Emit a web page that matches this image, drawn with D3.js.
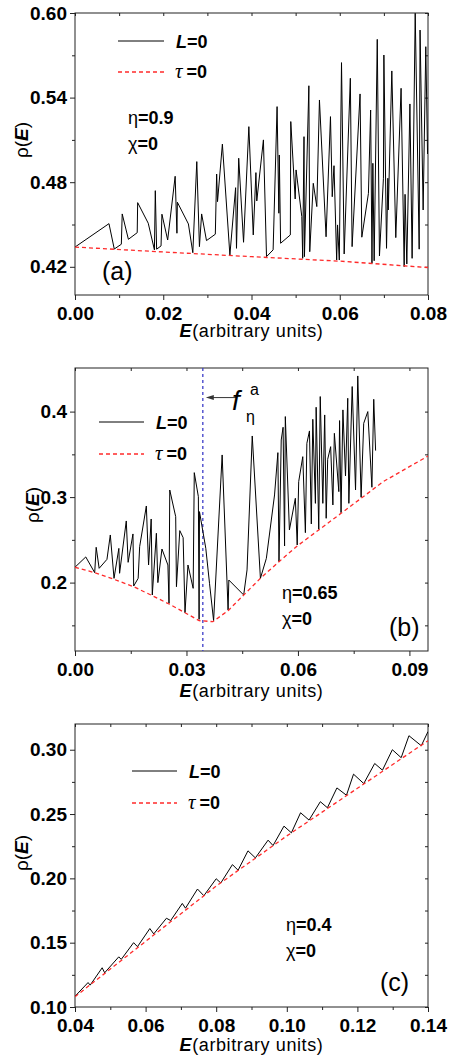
<!DOCTYPE html>
<html>
<head>
<meta charset="utf-8">
<script src="https://cdn.jsdelivr.net/npm/d3@7"></script>
<style>
  body { margin: 0; background: #fff; }
  svg { display: block; }
  text { font-family: Arial, "Liberation Sans", sans-serif; }
</style>
</head>
<body>
<svg id="chart" width="449" height="1059"></svg>
<script>
// datos: [E, rho]
const aL = [
  [0, 0.434], [0.0077, 0.4506], [0.0089, 0.4326], [0.0105, 0.436], [0.0107, 0.4575],
  [0.0121, 0.4395], [0.0141, 0.4442], [0.0142, 0.4655], [0.0166, 0.4509], [0.0180, 0.432],
  [0.0182, 0.474], [0.0185, 0.4325], [0.0195, 0.4348], [0.0197, 0.4573], [0.0210, 0.439],
  [0.0227, 0.4842], [0.0231, 0.4438], [0.0232, 0.4658], [0.0257, 0.4504], [0.0267, 0.430],
  [0.0276, 0.4946], [0.0282, 0.4343], [0.0287, 0.4575], [0.0298, 0.4386], [0.0318, 0.4431],
  [0.0321, 0.4858], [0.0323, 0.4662], [0.0334, 0.507], [0.0351, 0.4284], [0.0364, 0.4761],
  [0.0366, 0.4331], [0.0371, 0.497], [0.0382, 0.4374], [0.0394, 0.5194], [0.0404, 0.4426],
  [0.0410, 0.4868], [0.0412, 0.4667], [0.0427, 0.51], [0.0434, 0.4272], [0.0449, 0.432],
  [0.0458, 0.5336], [0.0462, 0.458], [0.0463, 0.4993], [0.0466, 0.4367], [0.0488, 0.4426],
  [0.0489, 0.523], [0.0499, 0.4681], [0.0501, 0.4887], [0.0514, 0.4556], [0.0516, 0.426],
  [0.0519, 0.5123], [0.0520, 0.4272], [0.0530, 0.5484], [0.0532, 0.4307], [0.0540, 0.4792],
  [0.0548, 0.4627], [0.0554, 0.5383], [0.0569, 0.4413], [0.0579, 0.5265], [0.0583, 0.4697],
  [0.0587, 0.4917], [0.0593, 0.4248], [0.0595, 0.4497], [0.0599, 0.4248], [0.0604, 0.5648],
  [0.0610, 0.4291], [0.0624, 0.5537], [0.0628, 0.4343], [0.0646, 0.5426], [0.0650, 0.441],
  [0.0665, 0.4721], [0.0670, 0.5312], [0.0673, 0.4225], [0.0675, 0.4934], [0.0678, 0.4243],
  [0.0685, 0.5813], [0.0690, 0.4277], [0.0699, 0.4828], [0.0700, 0.5702], [0.0706, 0.4331],
  [0.0709, 0.4828], [0.0710, 0.4603], [0.0718, 0.5589], [0.0727, 0.4407], [0.0739, 0.5466],
  [0.0746, 0.4201], [0.0748, 0.4714], [0.0752, 0.422], [0.0759, 0.5355], [0.0764, 0.426],
  [0.0771, 0.5998], [0.0780, 0.4325], [0.0782, 0.5879], [0.0789, 0.4603], [0.0795, 0.5761],
  [0.0799, 0.50]
];
const aTau = [[0, 0.434], [0.02, 0.4305], [0.04, 0.4272], [0.06, 0.424], [0.08, 0.4195]];

const bL = [
  [0, 0.218], [0.0029, 0.23], [0.0053, 0.2116], [0.0057, 0.2413], [0.0065, 0.2167],
  [0.0086, 0.2272], [0.0095, 0.2557], [0.0105, 0.205], [0.0118, 0.240], [0.0120, 0.2109],
  [0.0138, 0.2721], [0.0143, 0.2237], [0.0156, 0.2569], [0.0158, 0.196], [0.0170, 0.205],
  [0.0174, 0.242], [0.0192, 0.2896], [0.0198, 0.2206], [0.0205, 0.2744], [0.0208, 0.1855],
  [0.0219, 0.2577], [0.0223, 0.200], [0.0234, 0.2393], [0.0250, 0.2206], [0.0253, 0.1757],
  [0.0255, 0.3083], [0.0271, 0.2771], [0.0273, 0.1952], [0.0282, 0.2608], [0.0291, 0.2526],
  [0.0296, 0.1648], [0.0304, 0.2206], [0.0318, 0.1933], [0.0321, 0.3286], [0.0332, 0.3005],
  [0.0334, 0.157], [0.0335, 0.283], [0.0352, 0.2401], [0.0362, 0.1992], [0.0373, 0.1555],
  [0.0396, 0.3493], [0.0412, 0.168], [0.0414, 0.203], [0.0454, 0.1855], [0.0463, 0.2148],
  [0.0477, 0.3715], [0.0499, 0.205], [0.0515, 0.2284], [0.0537, 0.3025], [0.0546, 0.352],
  [0.0549, 0.2245], [0.0555, 0.3668], [0.0560, 0.3817], [0.0564, 0.2428], [0.0566, 0.3942],
  [0.0577, 0.2616], [0.0593, 0.2986], [0.0598, 0.244], [0.0602, 0.3181], [0.0613, 0.3473],
  [0.0620, 0.2584], [0.0624, 0.3629], [0.0631, 0.3774], [0.0636, 0.2686], [0.0640, 0.391],
  [0.0647, 0.2927], [0.0649, 0.4051], [0.0656, 0.2623], [0.0660, 0.4176], [0.0667, 0.2927],
  [0.0672, 0.3961], [0.0676, 0.2752], [0.0680, 0.3442], [0.0688, 0.359], [0.0694, 0.2908],
  [0.0698, 0.3746], [0.0710, 0.3064], [0.0712, 0.3895], [0.0716, 0.2818], [0.0721, 0.402],
  [0.0728, 0.3247], [0.0734, 0.4156], [0.0737, 0.2927], [0.0746, 0.4293], [0.0755, 0.3083],
  [0.0761, 0.4417], [0.0770, 0.2998], [0.0777, 0.3863], [0.0788, 0.400], [0.0799, 0.3115],
  [0.0804, 0.4144], [0.0809, 0.3544]
];
const bTau = [
  [0, 0.218], [0.0053, 0.2116], [0.0105, 0.2038], [0.0158, 0.1952], [0.0208, 0.1847],
  [0.0253, 0.175], [0.0296, 0.1648], [0.0334, 0.1555], [0.0371, 0.1543], [0.0412, 0.1672],
  [0.0454, 0.1855], [0.0499, 0.205], [0.0549, 0.2245], [0.0598, 0.2428], [0.0656, 0.2616],
  [0.0716, 0.281], [0.0770, 0.2986], [0.0829, 0.318], [0.095, 0.348]
];
const bFeta = 0.0344; // posicion de f_eta^a

const cL = [
  [0.04, 0.1083], [0.0437, 0.119], [0.0443, 0.117], [0.0477, 0.1305], [0.0484, 0.1266],
  [0.0524, 0.139], [0.0531, 0.137], [0.0566, 0.150], [0.0577, 0.1469], [0.0612, 0.161],
  [0.0623, 0.1568], [0.0659, 0.169], [0.0671, 0.1672], [0.0704, 0.1805], [0.0713, 0.1768],
  [0.0747, 0.1917], [0.0765, 0.1865], [0.0800, 0.1997], [0.0813, 0.1964], [0.0846, 0.2107],
  [0.0862, 0.2063], [0.0890, 0.2214], [0.0911, 0.2159], [0.0947, 0.2297], [0.0961, 0.2255],
  [0.0992, 0.2406], [0.1013, 0.2354], [0.1039, 0.251], [0.1063, 0.2453], [0.1095, 0.2596],
  [0.1115, 0.2549], [0.1142, 0.2703], [0.1169, 0.2646], [0.1189, 0.281], [0.1218, 0.2737],
  [0.1249, 0.2893], [0.1271, 0.2841], [0.1299, 0.300], [0.1324, 0.2938], [0.1346, 0.3109],
  [0.1381, 0.3031], [0.14, 0.3141]
];
const cTau = [
  [0.04, 0.108], [0.05, 0.1295], [0.06, 0.151], [0.07, 0.1725], [0.08, 0.194],
  [0.09, 0.2135], [0.10, 0.233], [0.11, 0.2515], [0.12, 0.270], [0.13, 0.2885], [0.14, 0.307]
];

// ticks
const aXMajor = [0, 0.02, 0.04, 0.06, 0.08], aXMinor = [0.01, 0.03, 0.05, 0.07];
const aYMajor = [0.42, 0.48, 0.54, 0.60], aYMinor = [0.45, 0.51, 0.57];
const bXMajor = [0, 0.03, 0.06, 0.09], bXMinor = [0.015, 0.045, 0.075];
const bYMajor = [0.2, 0.3, 0.4], bYMinor = [0.15, 0.25, 0.35];
const cXMajor = [0.04, 0.06, 0.08, 0.10, 0.12, 0.14], cXMinor = [0.05, 0.07, 0.09, 0.11, 0.13];
const cYMajor = [0.10, 0.15, 0.20, 0.25, 0.30], cYMinor = [0.125, 0.175, 0.225, 0.275];

const svg = d3.select('#chart');
const left = 75, right = 428;
const RED = '#ff2a2a';

const panels = [
  { id: 'a', top: 13, bottom: 295, xd: [0, 0.08], yd: [0.40, 0.60],
    xMaj: aXMajor, xMin: aXMinor, yMaj: aYMajor, yMin: aYMinor, yFmt: '.2f',
    L: aL, tau: aTau, ylab: [22, 140], xlabY: 337,
    leg: { x1: 118, x2: 164, tx: 176, y1: 41, y2: 72 },
    eta: ['0.9', 128, 124, 150], tag: ['(a)', 102, 280] },
  { id: 'b', top: 368, bottom: 651, xd: [0, 0.095], yd: [0.12, 0.451],
    xMaj: bXMajor, xMin: bXMinor, yMaj: bYMajor, yMin: bYMinor, yFmt: '.1f',
    L: bL, tau: bTau, ylab: [33, 505], xlabY: 697,
    leg: { x1: 99, x2: 144, tx: 156, y1: 422, y2: 454 },
    eta: ['0.65', 282, 599, 625], tag: ['(b)', 389, 636] },
  { id: 'c', top: 724, bottom: 1007, xd: [0.04, 0.14], yd: [0.10, 0.32],
    xMaj: cXMajor, xMin: cXMinor, yMaj: cYMajor, yMin: cYMinor, yFmt: '.2f',
    L: cL, tau: cTau, ylab: [22, 853], xlabY: 1051,
    leg: { x1: 132, x2: 177, tx: 189, y1: 771, y2: 803 },
    eta: ['0.4', 286, 931, 957], tag: ['(c)', 380, 991] }
];

const styleAxis = g => {
  g.select('.domain').remove();
  g.selectAll('.tick line').attr('stroke', '#222').attr('stroke-width', 1);
  g.selectAll('text').attr('font-family', 'Arial, "Liberation Sans", sans-serif')
    .attr('font-size', 19).attr('font-weight', 'bold').attr('fill', '#000');
};

panels.forEach(p => {
  const x = d3.scaleLinear().domain(p.xd).range([left, right]);
  const y = d3.scaleLinear().domain(p.yd).range([p.bottom, p.top]);
  const g = svg.append('g');

  g.append('clipPath').attr('id', 'clip-' + p.id)
    .append('rect').attr('x', left).attr('y', p.top - 1)
    .attr('width', right - left).attr('height', p.bottom - p.top + 1);

  // ejes
  g.append('g').attr('transform', `translate(0,${p.bottom})`)
    .call(d3.axisBottom(x).tickValues(p.xMaj).tickSize(5).tickPadding(7).tickFormat(d3.format('.2f')))
    .call(styleAxis);
  g.append('g').attr('transform', `translate(0,${p.bottom})`)
    .call(d3.axisBottom(x).tickValues(p.xMin).tickSize(3).tickFormat(''))
    .call(styleAxis);
  g.append('g').attr('transform', `translate(${left},0)`)
    .call(d3.axisLeft(y).tickValues(p.yMaj).tickSize(5).tickPadding(3).tickFormat(d3.format(p.yFmt)))
    .call(styleAxis);
  g.append('g').attr('transform', `translate(${left},0)`)
    .call(d3.axisLeft(y).tickValues(p.yMin).tickSize(3).tickFormat(''))
    .call(styleAxis);
  g.append('g').attr('transform', `translate(0,${p.top})`)
    .call(d3.axisTop(x).tickValues(p.xMaj.concat(p.xMin)).tickSize(-3).tickFormat(''))
    .call(styleAxis);
  g.append('g').attr('transform', `translate(${right},0)`)
    .call(d3.axisRight(y).tickValues(p.yMaj.concat(p.yMin)).tickSize(-3).tickFormat(''))
    .call(styleAxis);

  g.append('rect').attr('x', left).attr('y', p.top)
    .attr('width', right - left).attr('height', p.bottom - p.top)
    .attr('fill', 'none').attr('stroke', '#222').attr('stroke-width', 1);

  const line = d3.line().x(d => x(d[0])).y(d => y(d[1]));
  const plot = g.append('g').attr('clip-path', `url(#clip-${p.id})`);

  if (p.id === 'b') {
    plot.append('line')
      .attr('x1', x(bFeta)).attr('x2', x(bFeta))
      .attr('y1', p.top).attr('y2', p.bottom)
      .attr('stroke', '#3d3dc8').attr('stroke-width', 1.3).attr('stroke-dasharray', '3,3');
  }

  plot.append('path').datum(p.L).attr('d', line)
    .attr('fill', 'none').attr('stroke', '#000').attr('stroke-width', 1);
  plot.append('path').datum(p.tau).attr('d', line)
    .attr('fill', 'none').attr('stroke', RED).attr('stroke-width', 1.3)
    .attr('stroke-dasharray', '4,3');

  // leyenda
  const lg = p.leg;
  g.append('line').attr('x1', lg.x1).attr('x2', lg.x2).attr('y1', lg.y1).attr('y2', lg.y1)
    .attr('stroke', '#000').attr('stroke-width', 1);
  g.append('line').attr('x1', lg.x1).attr('x2', lg.x2).attr('y1', lg.y2).attr('y2', lg.y2)
    .attr('stroke', RED).attr('stroke-width', 1.3).attr('stroke-dasharray', '4,3');
  const t1 = g.append('text').attr('x', lg.tx).attr('y', lg.y1 + 7)
    .attr('font-size', 18).attr('font-weight', 'bold');
  t1.append('tspan').attr('font-style', 'italic').text('L');
  t1.append('tspan').text('=0');
  const t2 = g.append('text').attr('x', lg.tx - 1).attr('y', lg.y2 + 6).attr('font-size', 18);
  t2.append('tspan').attr('font-family', '"Liberation Serif", "DejaVu Serif", serif')
    .attr('font-style', 'italic').attr('font-size', 21).text('τ');
  t2.append('tspan').attr('dx', 4).attr('font-weight', 'bold').text('=0');

  // parametros
  const e1 = g.append('text').attr('x', p.eta[1]).attr('y', p.eta[2]).attr('font-size', 18);
  e1.append('tspan').text('η');
  e1.append('tspan').attr('font-weight', 'bold').text('=' + p.eta[0]);
  const e2 = g.append('text').attr('x', p.eta[1]).attr('y', p.eta[3]).attr('font-size', 18);
  e2.append('tspan').text('χ');
  e2.append('tspan').attr('font-weight', 'bold').text('=0');

  g.append('text').attr('x', p.tag[1]).attr('y', p.tag[2])
    .attr('font-size', 25).text(p.tag[0]);

  // titulos de ejes
  const xt = g.append('text').attr('x', (left + right) / 2).attr('y', p.xlabY)
    .attr('text-anchor', 'middle').attr('font-size', 18).attr('letter-spacing', 0.6);
  xt.append('tspan').attr('font-weight', 'bold').attr('font-style', 'italic').text('E');
  xt.append('tspan').text('(arbitrary units)');

  const yt = g.append('text')
    .attr('transform', `translate(${p.ylab[0] + 6},${p.ylab[1]}) rotate(-90)`)
    .attr('text-anchor', 'middle').attr('font-size', 19);
  yt.append('tspan').text('ρ(');
  yt.append('tspan').attr('font-weight', 'bold').attr('font-style', 'italic').text('E');
  yt.append('tspan').text(')');

  if (p.id === 'b') {
    const ya = y(0.4164);
    const xa = x(bFeta) + 3;
    g.append('line').attr('x1', xa + 6).attr('x2', 236).attr('y1', ya).attr('y2', ya)
      .attr('stroke', '#333').attr('stroke-width', 1);
    g.append('path').attr('d', `M${xa},${ya} L${xa + 8},${ya - 2.5} L${xa + 8},${ya + 2.5} Z`)
      .attr('fill', '#333');
    g.append('text').attr('x', 232).attr('y', ya + 12)
      .attr('font-family', '"Liberation Serif", "DejaVu Serif", serif')
      .attr('font-style', 'italic').attr('font-size', 28).text('f');
    g.append('text').attr('x', 250).attr('y', ya - 3).attr('font-size', 16).text('a');
    g.append('text').attr('x', 246).attr('y', ya + 24).attr('font-size', 16).text('η');
  }
});
</script>
</body>
</html>
